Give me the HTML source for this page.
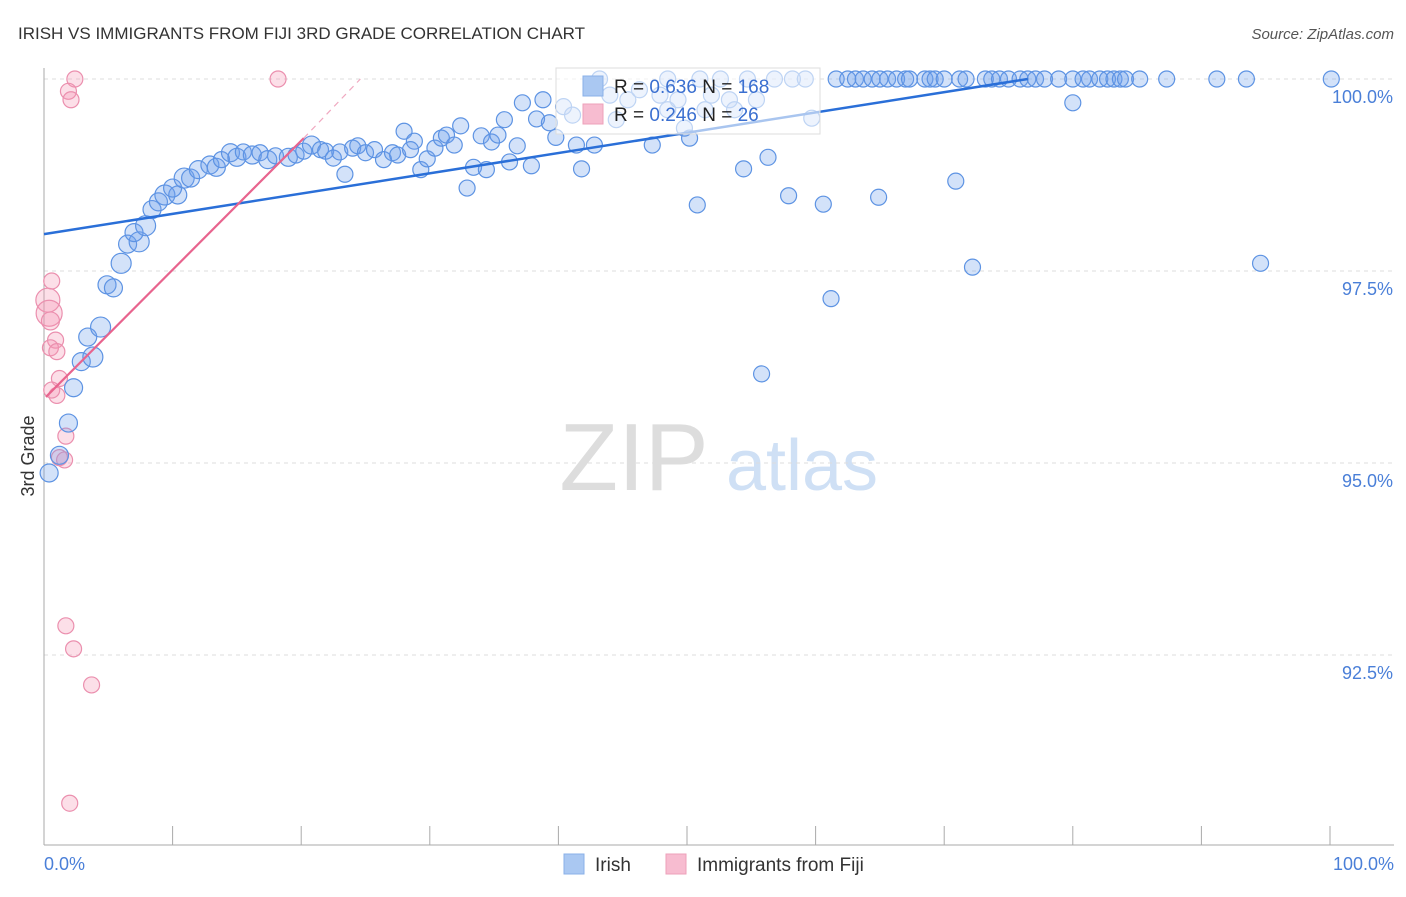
<!DOCTYPE html>
<html><head><meta charset="utf-8"><style>
body{margin:0;background:#fff;font-family:"Liberation Sans",sans-serif}
svg text{font-family:"Liberation Sans",sans-serif}
</style></head><body>
<svg id="chart" width="1406" height="892" viewBox="0 0 1406 892">
<text x="18" y="39" font-size="17" fill="#333">IRISH VS IMMIGRANTS FROM FIJI 3RD GRADE CORRELATION CHART</text>
<text x="1394" y="39" font-size="15" fill="#555" font-style="italic" text-anchor="end">Source: ZipAtlas.com</text>
<g>
<text x="634" y="490" font-size="96" fill="#ddd" font-family="Liberation Serif,serif" text-anchor="middle">ZIP</text>
<text x="802" y="490" font-size="72" fill="#cfe0f5" text-anchor="middle">atlas</text>
</g>
<g id="grid"></g>
<g id="axes"></g>
<g id="pinkPts"></g>
<g id="bluePts"></g>
<g id="lines"></g>
<text transform="translate(34,456) rotate(-90)" font-size="18" fill="#333" text-anchor="middle">3rd Grade</text>
<g>
<rect x="556" y="68" width="264" height="66" fill="#fff" fill-opacity="0.6" stroke="#ddd"/>
<rect x="583" y="76" width="20" height="20" fill="#aac8f2" stroke="#8ab0e8"/>
<rect x="583" y="104" width="20" height="20" fill="#f7bcd0" stroke="#eea0ba"/>
<text x="614" y="93" font-size="19" fill="#222">R = <tspan fill="#3a6fd0">0.636</tspan>   N = <tspan fill="#3a6fd0">168</tspan></text>
<text x="614" y="121" font-size="19" fill="#222">R = <tspan fill="#3a6fd0">0.246</tspan>   N =   <tspan fill="#3a6fd0">26</tspan></text>
</g>
<g>
<rect x="564" y="854" width="20" height="20" fill="#aac8f2" stroke="#8ab0e8"/>
<text x="595" y="871" font-size="19" fill="#333">Irish</text>
<rect x="666" y="854" width="20" height="20" fill="#f7bcd0" stroke="#eea0ba"/>
<text x="697" y="871" font-size="19" fill="#333">Immigrants from Fiji</text>
</g>
</svg>
<script>
const yTicks=[100,97.5,95,92.5];
const yTickLabels=["100.0%","97.5%","95.0%","92.5%"];
const xTicks=[0,10,20,30,40,50,60,70,80,90,100];
const xEndLabels=["0.0%","100.0%"];
const blueX=[0.4,1.2,1.9,2.3,2.9,3.8,3.4,4.4,4.9,5.4,6.0,6.5,7.4,7.0,7.9,8.4,8.9,9.4,10.4,10.0,10.9,11.4,12.0,12.9,13.4,13.8,14.5,15.0,15.5,16.2,16.8,17.4,18.0,19.0,19.6,20.2,20.8,21.5,21.9,22.5,23.0,23.4,24.0,24.4,25.0,25.7,26.4,27.1,27.5,28.0,28.8,28.5,29.3,29.8,30.4,30.9,31.3,31.9,32.4,32.9,33.4,34.0,34.4,34.8,35.3,35.8,36.2,36.8,37.2,37.9,38.3,38.8,39.3,39.8,40.4,41.1,41.4,41.8,42.8,43.2,44.0,44.5,45.4,46.3,47.3,47.9,48.5,48.5,49.3,49.8,50.2,50.8,51.0,51.4,51.9,52.6,53.3,53.7,54.4,54.7,55.4,55.8,56.3,56.8,57.9,58.2,59.2,59.7,60.6,61.2,61.6,62.5,63.1,63.7,64.4,64.9,65.0,65.6,66.3,67.0,67.3,68.5,68.9,69.3,70.0,70.9,71.2,71.7,72.2,73.2,73.7,74.3,75.0,75.9,76.5,77.1,77.8,78.9,80.0,80.0,80.8,81.3,82.1,82.7,83.2,83.7,84.1,85.2,87.3,91.2,93.5,94.6,100.1];
const blueY=[94.87,95.1,95.52,95.98,96.32,96.38,96.64,96.77,97.32,97.28,97.6,97.85,97.88,98.0,98.09,98.3,98.4,98.49,98.49,98.58,98.71,98.71,98.82,98.88,98.85,98.95,99.04,98.98,99.05,99.01,99.04,98.95,99.0,98.98,99.01,99.06,99.14,99.08,99.06,98.97,99.05,98.76,99.1,99.13,99.04,99.08,98.95,99.04,99.01,99.32,99.19,99.08,98.82,98.96,99.1,99.23,99.27,99.14,99.39,98.58,98.85,99.26,98.82,99.18,99.27,99.47,98.92,99.13,99.69,98.87,99.48,99.73,99.43,99.24,99.64,99.53,99.14,98.83,99.14,100,99.79,99.47,99.73,99.86,99.14,99.79,99.6,100,99.73,99.36,99.23,98.36,100,99.6,99.79,100,99.73,99.6,98.83,100,99.73,96.16,98.98,100,98.48,100,100,99.49,98.37,97.14,100,100,100,100,100,98.46,100,100,100,100,100,100,100,100,100,98.67,100,100,97.55,100,100,100,100,100,100,100,100,100,99.69,100,100,100,100,100,100,100,100,100,100,100,100,97.6,100];
const blueSize=[9,9,9,9,9,10,9,10,9,9,10,9,10,9,10,9,9,10,9,9,10,9,9,9,9,8,9,9,8,9,8,9,8,9,8,8,9];
const pinkX=[0.3,0.4,0.6,0.5,0.9,0.5,1.0,1.2,1.0,0.6,1.7,1.2,1.6,1.7,2.3,3.7,2.0,2.4,1.9,2.1,18.2];
const pinkY=[97.12,96.95,97.37,96.85,96.6,96.5,96.45,96.1,95.88,95.95,95.35,95.07,95.04,92.88,92.58,92.11,90.57,100,99.84,99.73,100];
const pinkSize=[12,13,8,9,8,8,8,8,8,8,8,8,8,8,8,8,8,8,8,8,8];
const blueTrendX=[0,76.5];
const blueTrendY=[97.98,100];
const pinkTrendX=[0.15,20.2,24.6];
const pinkTrendY=[95.86,99.23,100];

const X0=44,X1=1330,Y100=79,PXPER=76.8;
function sx(v){return X0+(X1-X0)*v/100;}
function sy(v){return Y100+(100-v)*PXPER;}
const NS="http://www.w3.org/2000/svg";
function mk(tag,attrs,parent){const e=document.createElementNS(NS,tag);for(const k in attrs)e.setAttribute(k,attrs[k]);parent.appendChild(e);return e;}
const grid=document.getElementById('grid'),axes=document.getElementById('axes');
yTicks.forEach((t,i)=>{
 const l=mk('line',{x1:44,x2:1394,y1:sy(t),y2:sy(t),stroke:'#ddd','stroke-dasharray':'4,4'},grid);
 
 
 const tx=mk('text',{x:1393,y:sy(t)+24,'font-size':18,fill:'#4a7fd8','text-anchor':'end'},axes);
 tx.textContent=yTickLabels[i];
 
 
});
const ya=mk('line',{x1:44,x2:44,y1:68,y2:845,stroke:'#aaa'},axes);


const xa=mk('line',{x1:44,x2:1394,y1:845,y2:845,stroke:'#aaa'},axes);


xTicks.forEach(t=>{
 const l=mk('line',{x1:sx(t),x2:sx(t),y1:826,y2:845,stroke:'#aaa'},axes);
 
 
});
const xl0=mk('text',{x:44,y:870,'font-size':18,fill:'#4a7fd8'},axes);xl0.textContent=xEndLabels[0];


const xl1=mk('text',{x:1394,y:870,'font-size':18,fill:'#4a7fd8','text-anchor':'end'},axes);xl1.textContent=xEndLabels[1];


const pg=document.getElementById('pinkPts');
pinkX.forEach((x,i)=>{
 const c=mk('circle',{cx:sx(x),cy:sy(pinkY[i]),r:pinkSize[i],fill:'rgba(244,150,180,0.3)',stroke:'#eb8fae','stroke-width':1.2},pg);
 
 
});
const bg=document.getElementById('bluePts');
blueX.forEach((x,i)=>{
 const c=mk('circle',{cx:sx(x),cy:sy(blueY[i]),r:blueSize[i]||8,fill:'rgba(110,160,235,0.3)',stroke:'#5d93e3','stroke-width':1.2},bg);
 
 
});
const lg=document.getElementById('lines');
const bl=mk('line',{x1:sx(blueTrendX[0]),y1:sy(blueTrendY[0]),x2:sx(blueTrendX[1]),y2:sy(blueTrendY[1]),stroke:'#2a6fd8','stroke-width':2.5},lg);


const pl=mk('line',{x1:sx(pinkTrendX[0]),y1:sy(pinkTrendY[0]),x2:sx(pinkTrendX[1]),y2:sy(pinkTrendY[1]),stroke:'#e8648e','stroke-width':2.2},lg);


const pd=mk('line',{x1:sx(pinkTrendX[1]),y1:sy(pinkTrendY[1]),x2:sx(pinkTrendX[2]),y2:sy(pinkTrendY[2]),stroke:'#f0a8c0','stroke-width':1.2,'stroke-dasharray':'6,5'},lg);


</script>
</body></html>
